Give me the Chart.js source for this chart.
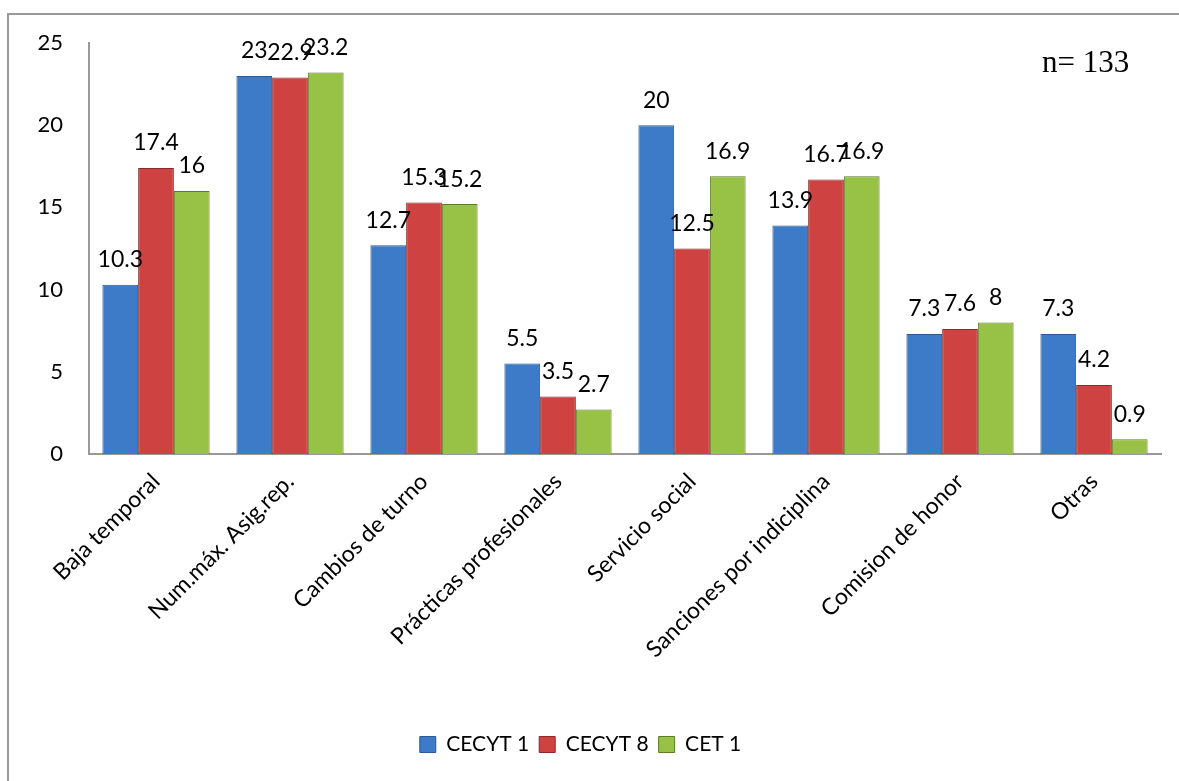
<!DOCTYPE html>
<html>
<head>
  <title>Motivos por plantel</title>
  <script src="https://cdn.jsdelivr.net/npm/chart.js"></script>
  <style>
    body { margin: 0; background: #fff; }
    #frame { position: absolute; left: 7px; top: 13px; width: 1200px; height: 800px;
             border-top: 2px solid #999; border-left: 2px solid #999; }
    #wrap { position: absolute; left: 0; top: 0; width: 1179px; height: 781px; }
  </style>
</head>
<body>
  <div id="frame"></div>
  <div id="wrap"><canvas id="grafica"></canvas></div>
  <script>
    // Datos
    const categorias = ['Baja temporal', 'Num.máx. Asig.rep.', 'Cambios de turno', 'Prácticas profesionales',
                        'Servicio social', 'Sanciones por indiciplina', 'Comision de honor', 'Otras'];
    const cecyt1 = [10.3, 23, 12.7, 5.5, 20, 13.9, 7.3, 7.3];
    const cecyt8 = [17.4, 22.9, 15.3, 3.5, 12.5, 16.7, 7.6, 4.2];
    const cet1 = [16, 23.2, 15.2, 2.7, 16.9, 16.9, 8, 0.9];
    const ticksY = [0, 5, 10, 15, 20, 25];

    const fuente = 'Lato, "Open Sans", sans-serif';

    // valores encima de cada barra y la nota "n= 133"
    const etiquetas = {
      id: 'etiquetas',
      afterDatasetsDraw(chart) {
        const c = chart.ctx;
        c.save();
        c.font = '23px ' + fuente;
        c.fillStyle = '#000';
        c.textAlign = 'center';
        c.textBaseline = 'middle';
        chart.data.datasets.forEach((ds, i) => {
          chart.getDatasetMeta(i).data.forEach((bar, j) => {
            c.fillText(String(ds.data[j]), bar.x, bar.y - 25);
          });
        });
        c.font = '31px "Liberation Serif", "DejaVu Serif", serif';
        c.textAlign = 'left';
        c.fillText('n= 133', 1042, 64);
        c.restore();
      }
    };

    const ctx = document.getElementById('grafica').getContext('2d');
    new Chart(ctx, {
      type: 'bar',
      data: {
        labels: categorias,
        datasets: [
          { label: 'CECYT 1', data: cecyt1, backgroundColor: '#3d7bc9', borderColor: '#2b5a94', borderWidth: 1 },
          { label: 'CECYT 8', data: cecyt8, backgroundColor: '#cf4242', borderColor: '#8a2a2a', borderWidth: 1 },
          { label: 'CET 1', data: cet1, backgroundColor: '#98c245', borderColor: '#5d7a26', borderWidth: 1 }
        ]
      },
      options: {
        responsive: true,
        maintainAspectRatio: false,
        animation: false,
        datasets: { bar: { categoryPercentage: 0.8, barPercentage: 1.0 } },
        layout: { padding: { top: 43, right: 18, left: 0, bottom: 16 } },
        plugins: {
          tooltip: { enabled: false },
          legend: {
            position: 'bottom',
            labels: {
              font: { family: fuente, size: 21 },
              color: '#000',
              boxWidth: 16,
              boxHeight: 16,
              padding: 10
            }
          }
        },
        scales: {
          x: {
            grid: { display: false, drawTicks: false },
            border: { display: true, color: '#999', width: 2 },
            ticks: {
              color: '#000',
              font: { family: fuente, size: 23 },
              minRotation: 45,
              maxRotation: 45,
              padding: 14
            },
            afterFit(scale) { scale.height = 270; }
          },
          y: {
            min: 0,
            max: 25,
            afterBuildTicks(scale) { scale.ticks = ticksY.map(v => ({ value: v })); },
            grid: { display: false, drawTicks: false },
            border: { display: true, color: '#999', width: 2 },
            ticks: {
              color: '#000',
              font: { family: fuente, size: 22 },
              padding: 26
            },
            afterFit(scale) { scale.width = 89; }
          }
        }
      },
      plugins: [etiquetas]
    });
  </script>
</body>
</html>
